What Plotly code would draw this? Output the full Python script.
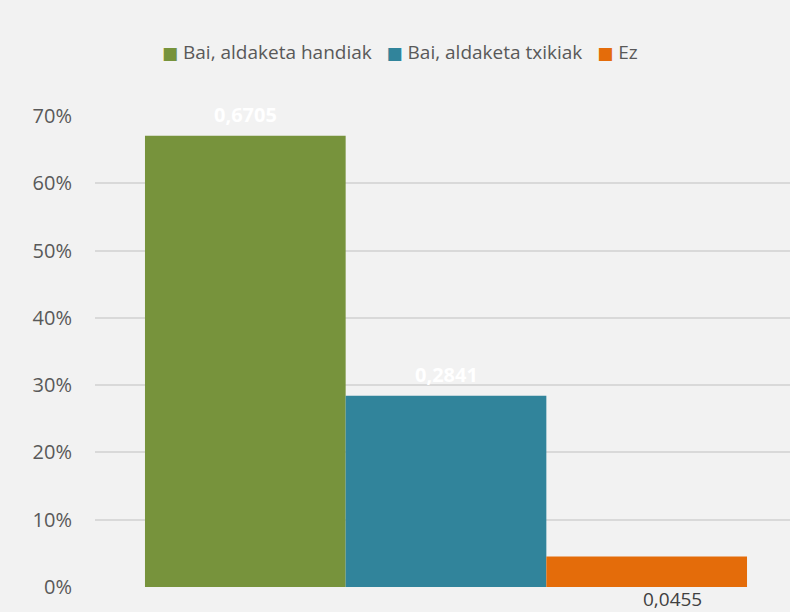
import plotly.graph_objects as go

series = ["Bai, aldaketa handiak", "Bai, aldaketa txikiak", "Ez"]
values = [0.6705, 0.2841, 0.0455]
labels = ["0,6705", "0,2841", "0,0455"]
colors = ["#77933c", "#31849b", "#e46c0a"]
tick_vals = [0, 0.1, 0.2, 0.3, 0.4, 0.5, 0.6, 0.7]
tick_text = ["0%", "10%", "20%", "30%", "40%", "50%", "60%", "70%"]

FONT = "Open Sans"
fig = go.Figure()
bargap = 0.14
n = len(series)
w = (1 - bargap) / n
for i, (s, v, c) in enumerate(zip(series, values, colors)):
    fig.add_trace(go.Bar(name=s, x=[0], y=[v], marker=dict(color=c, line=dict(width=0)),
                         hoverinfo="skip", showlegend=False))

# data labels
for i, (v, t) in enumerate(zip(values, labels)):
    xc = -(1 - bargap) / 2 + w * (i + 0.5)
    if i < 2:
        fig.add_annotation(x=xc, y=v, text="<b>" + t + "</b>", showarrow=False,
                           yanchor="middle", yshift=21,
                           font=dict(family=FONT, size=20, color="white"))
    else:
        fig.add_annotation(x=xc, y=0, text=t, showarrow=False,
                           yanchor="middle", yshift=-12, xshift=26,
                           font=dict(family=FONT, size=19, color="#404040"))

# legend drawn as a text line (square markers + names)
gap = "\u00a0\u00a0\u00a0"
parts = []
for s, c in zip(series, colors):
    parts.append('<span style="color:%s;font-size:17px;font-family:DejaVu Sans">\u25a0</span>\u00a0%s' % (c, s))
legend_text = gap.join(parts)
fig.add_annotation(xref="paper", yref="paper", x=0.4388, y=1.136,
                   xanchor="center", yanchor="middle", showarrow=False,
                   text=legend_text, font=dict(family=FONT, size=19, color="#595959"))

fig.update_layout(
    width=790, height=612,
    barmode="group", bargap=bargap, bargroupgap=0,
    paper_bgcolor="#f2f2f2", plot_bgcolor="#f2f2f2",
    margin=dict(l=95, r=0, t=116, b=25),
    font=dict(family=FONT, size=19, color="#595959"),
    showlegend=False,
    xaxis=dict(range=[-0.5014, 0.4914], showticklabels=False, showgrid=False,
               zeroline=False, showline=False, fixedrange=True),
    yaxis=dict(range=[0, 0.7], tickvals=tick_vals, ticktext=tick_text,
               showgrid=True, gridcolor="#d9d9d9", gridwidth=1.5,
               zeroline=False, showline=False, ticks="", ticklabelstandoff=22,
               tickfont=dict(family=FONT, size=20, color="#595959")),
)
fig.write_html("out.html", config={"displayModeBar": False},
               post_script="document.body.style.margin='0';document.body.style.background='#f2f2f2';")
